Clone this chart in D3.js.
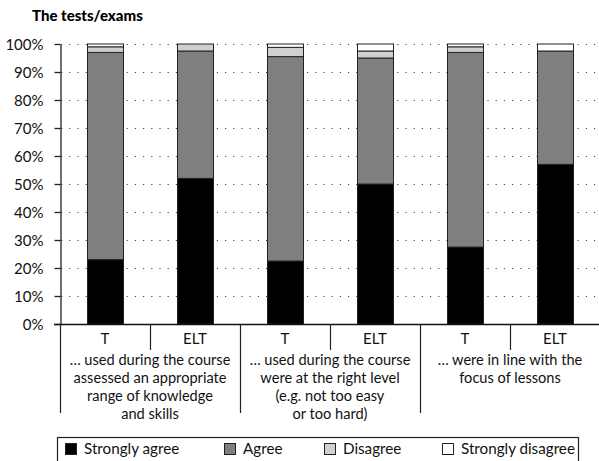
<!DOCTYPE html>
<html><head><meta charset="utf-8">
<script src="https://cdn.jsdelivr.net/npm/d3@7"></script>
<style>
body{margin:0;background:#fff;}
svg{display:block;}
</style></head>
<body>
<script>
const categories = ["T","ELT","T","ELT","T","ELT"];
const groupLabels = [
  ["… used during the course","assessed an appropriate","range of knowledge","and skills"],
  ["… used during the course","were at the right level","(e.g. not too easy","or too hard)"],
  ["… were in line with the","focus of lessons"]
];
const seriesNames = ["Strongly agree","Agree","Disagree","Strongly disagree"];
const stronglyAgree    = [23, 52, 22.5, 50, 27.5, 57];
const agree            = [74, 45.5, 73, 45, 69.5, 40.5];
const disagree         = [2, 2.5, 3.3, 2.5, 2, 0];
const stronglyDisagree = [1, 0, 1.2, 2.5, 1, 2.5];
const yTicks = [0,10,20,30,40,50,60,70,80,90,100];
const colors = ["#000000","#7f7f7f","#d0d0d0","#ffffff"];

const W=599,H=461;
const svg=d3.select("body").append("svg").attr("width",W).attr("height",H);
const x0=60,x1=600,y0=324,y1=44;
const ids=d3.range(categories.length);
const x=d3.scaleBand().domain(ids).range([x0,x1]).paddingInner(0.6).paddingOuter(0.3);
const band=(x1-x0)/categories.length;
const y=d3.scaleLinear().domain([0,100]).range([y0,y1]);

const fontLabel="Lato, 'Noto Sans', sans-serif";

svg.append("text").attr("x",32).attr("y",21).attr("font-family",fontLabel)
  .attr("font-weight","900").attr("font-size",15).attr("fill","#000").text("The tests/exams");

// grid
svg.append("g").selectAll("line").data(yTicks.filter(d=>d>0)).join("line")
  .attr("x1",x0+1).attr("x2",W).attr("y1",d=>Math.round(y(d))+0.5).attr("y2",d=>Math.round(y(d))+0.5)
  .attr("stroke","#444").attr("stroke-width",1.2).attr("stroke-dasharray","1.2,7");

// stacked data
const table=ids.map(i=>({i,sa:stronglyAgree[i],a:agree[i],d:disagree[i],sd:stronglyDisagree[i]}));
const stack=d3.stack().keys(["sa","a","d","sd"])(table);
svg.append("g").selectAll("g").data(stack).join("g")
  .attr("fill",(d,k)=>colors[k])
  .selectAll("rect").data(d=>d.filter(p=>p[1]-p[0]>0)).join("rect")
  .attr("x",d=>x(d.data.i)+0.5).attr("width",x.bandwidth())
  .attr("y",d=>y(d[1])).attr("height",d=>y(d[0])-y(d[1]))
  .attr("stroke","#222").attr("stroke-width",1);

// y axis
const yAxis=d3.axisLeft(y).tickValues(yTicks).tickFormat(d=>d+"%").tickSize(6).tickSizeOuter(0);
const ga=svg.append("g").attr("transform",`translate(${x0+0.5},0)`).call(yAxis);
ga.select(".domain").attr("stroke","#222").attr("stroke-width",1.3);
ga.selectAll(".tick line").attr("stroke","#222").attr("stroke-width",1.3);
ga.selectAll(".tick text").attr("font-family",fontLabel).attr("font-size",15).attr("fill","#111").attr("x",-17).attr("dy","0.36em");

// x axis line
svg.append("line").attr("x1",x0-6).attr("x2",W).attr("y1",y0+0.5).attr("y2",y0+0.5).attr("stroke","#111").attr("stroke-width",1.3);

// separators
const sep=svg.append("g").attr("stroke","#222").attr("stroke-width",1.2);
ids.forEach(i=>{
  const xs=Math.round(x0+band*i)+0.5;
  if(i%2===1){
    sep.append("line").attr("x1",xs).attr("x2",xs).attr("y1",y0).attr("y2",350);
  } else {
    sep.append("line").attr("x1",xs).attr("x2",xs).attr("y1",y0).attr("y2",413);
  }
});

// category labels
svg.append("g").selectAll("text").data(ids).join("text")
  .attr("x",i=>x(i)+x.bandwidth()/2).attr("y",344).attr("text-anchor","middle")
  .attr("font-family",fontLabel).attr("font-size",15).attr("fill","#111").text(i=>categories[i]);

// group labels
groupLabels.forEach((lines,g)=>{
  const cx=x0+band*(2*g+1);
  svg.append("text").attr("text-anchor","middle").attr("font-family",fontLabel).attr("font-size",14.6).attr("fill","#111")
    .selectAll("tspan").data(lines).join("tspan").attr("x",cx).attr("y",(d,k)=>365+k*18).text(d=>d);
});

// legend
svg.append("rect").attr("x",57.5).attr("y",437.5).attr("width",521).attr("height",40).attr("fill","none").attr("stroke","#222").attr("stroke-width",1.2);
const legX=[65,224,324,442];
const lg=svg.append("g").selectAll("g").data(seriesNames).join("g").attr("transform",(d,k)=>`translate(${legX[k]},0)`);
lg.append("rect").attr("x",0.5).attr("y",443.5).attr("width",11).attr("height",11).attr("fill",(d,k)=>colors[k]).attr("stroke","#222");
lg.append("text").attr("x",19).attr("y",454).attr("font-family",fontLabel).attr("font-size",15.2).attr("fill","#111").text(d=>d);
</script>
</body></html>
